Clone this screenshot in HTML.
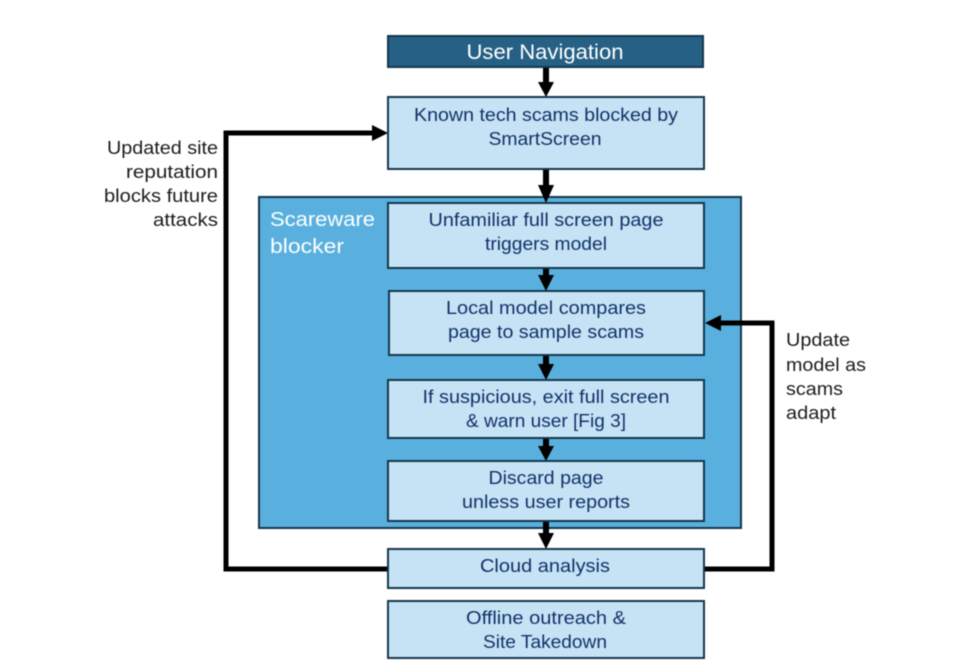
<!DOCTYPE html>
<html>
<head>
<meta charset="utf-8">
<style>
html,body{margin:0;padding:0;background:#fff}
svg{display:block;filter:blur(0.4px)}
text{font-family:"Liberation Sans",sans-serif;font-size:18.5px}
.n{fill:#12316b;text-anchor:middle}
.k{fill:#1c1c1c}
.b{fill:#c5e3f4;stroke:#14374d;stroke-width:2}
</style>
</head>
<body>
<svg width="959" height="671" viewBox="0 0 959 671" xmlns="http://www.w3.org/2000/svg">
<rect width="959" height="671" fill="#fff"/>
<rect x="259" y="197" width="482" height="331" fill="#59b0de" stroke="#14374d" stroke-width="2"/>

<g fill="none" stroke="#000" stroke-width="5">
<path d="M388 569H226V133H374"/>
<path d="M704 569H772V323H720"/>
</g>
<g fill="none" stroke="#000" stroke-width="6">
<path d="M546 67V84"/>
<path d="M546 169V187"/>
<path d="M546 268V277"/>
<path d="M546 355V366"/>
<path d="M546 438V448"/>
<path d="M546 521V535"/>
</g>
<g fill="#000">
<path d="M538 82H554L546 97Z"/>
<path d="M538 185H554L546 203Z"/>
<path d="M538 275H554L546 291Z"/>
<path d="M538 364H554L546 380Z"/>
<path d="M538 446H554L546 461Z"/>
<path d="M538 533H554L546 549Z"/>
<path d="M372 125V141L388 133Z"/>
<path d="M721 315V331L705 323Z"/>
</g>

<rect x="388" y="36" width="315" height="31" fill="#266084" stroke="#14374d" stroke-width="2"/>
<rect class="b" x="388" y="97" width="316" height="72"/>
<rect class="b" x="388" y="203" width="316" height="65"/>
<rect class="b" x="389" y="291" width="315" height="64"/>
<rect class="b" x="388" y="380" width="316" height="58"/>
<rect class="b" x="388" y="461" width="316" height="60"/>
<rect class="b" x="388" y="549" width="316" height="39"/>
<rect class="b" x="388" y="601" width="316" height="57"/>

<text x="545" y="59" text-anchor="middle" fill="#fff" style="font-size:21px" textLength="157" lengthAdjust="spacingAndGlyphs">User Navigation</text>
<text class="n" x="546" y="121" textLength="264" lengthAdjust="spacingAndGlyphs">Known tech scams blocked by</text>
<text class="n" x="545" y="145" textLength="113" lengthAdjust="spacingAndGlyphs">SmartScreen</text>
<text class="n" x="546" y="226" textLength="235" lengthAdjust="spacingAndGlyphs">Unfamiliar full screen page</text>
<text class="n" x="546" y="250" textLength="122" lengthAdjust="spacingAndGlyphs">triggers model</text>
<text class="n" x="546" y="314" textLength="200" lengthAdjust="spacingAndGlyphs">Local model compares</text>
<text class="n" x="546" y="338" textLength="196" lengthAdjust="spacingAndGlyphs">page to sample scams</text>
<text class="n" x="546" y="403" textLength="247" lengthAdjust="spacingAndGlyphs">If suspicious, exit full screen</text>
<text class="n" x="546" y="427" textLength="160" lengthAdjust="spacingAndGlyphs">&amp; warn user [Fig 3]</text>
<text class="n" x="546" y="484" textLength="115" lengthAdjust="spacingAndGlyphs">Discard page</text>
<text class="n" x="546" y="508" textLength="168" lengthAdjust="spacingAndGlyphs">unless user reports</text>
<text class="n" x="545" y="572" textLength="130" lengthAdjust="spacingAndGlyphs">Cloud analysis</text>
<text class="n" x="546" y="624" textLength="160" lengthAdjust="spacingAndGlyphs">Offline outreach &amp;</text>
<text class="n" x="545" y="648" textLength="124" lengthAdjust="spacingAndGlyphs">Site Takedown</text>

<text x="270" y="226" fill="#fff" style="font-size:20.5px" textLength="105" lengthAdjust="spacingAndGlyphs">Scareware</text>
<text x="270" y="253" fill="#fff" style="font-size:20.5px" textLength="74" lengthAdjust="spacingAndGlyphs">blocker</text>

<text class="k" x="218" y="154" text-anchor="end" textLength="111" lengthAdjust="spacingAndGlyphs">Updated site</text>
<text class="k" x="218" y="178" text-anchor="end" textLength="92" lengthAdjust="spacingAndGlyphs">reputation</text>
<text class="k" x="218" y="202" text-anchor="end" textLength="114" lengthAdjust="spacingAndGlyphs">blocks future</text>
<text class="k" x="218" y="226" text-anchor="end" textLength="65" lengthAdjust="spacingAndGlyphs">attacks</text>

<text class="k" x="786" y="346" textLength="64" lengthAdjust="spacingAndGlyphs">Update</text>
<text class="k" x="786" y="371" textLength="80" lengthAdjust="spacingAndGlyphs">model as</text>
<text class="k" x="786" y="395" textLength="57" lengthAdjust="spacingAndGlyphs">scams</text>
<text class="k" x="786" y="419" textLength="50" lengthAdjust="spacingAndGlyphs">adapt</text>
</svg>
</body>
</html>
